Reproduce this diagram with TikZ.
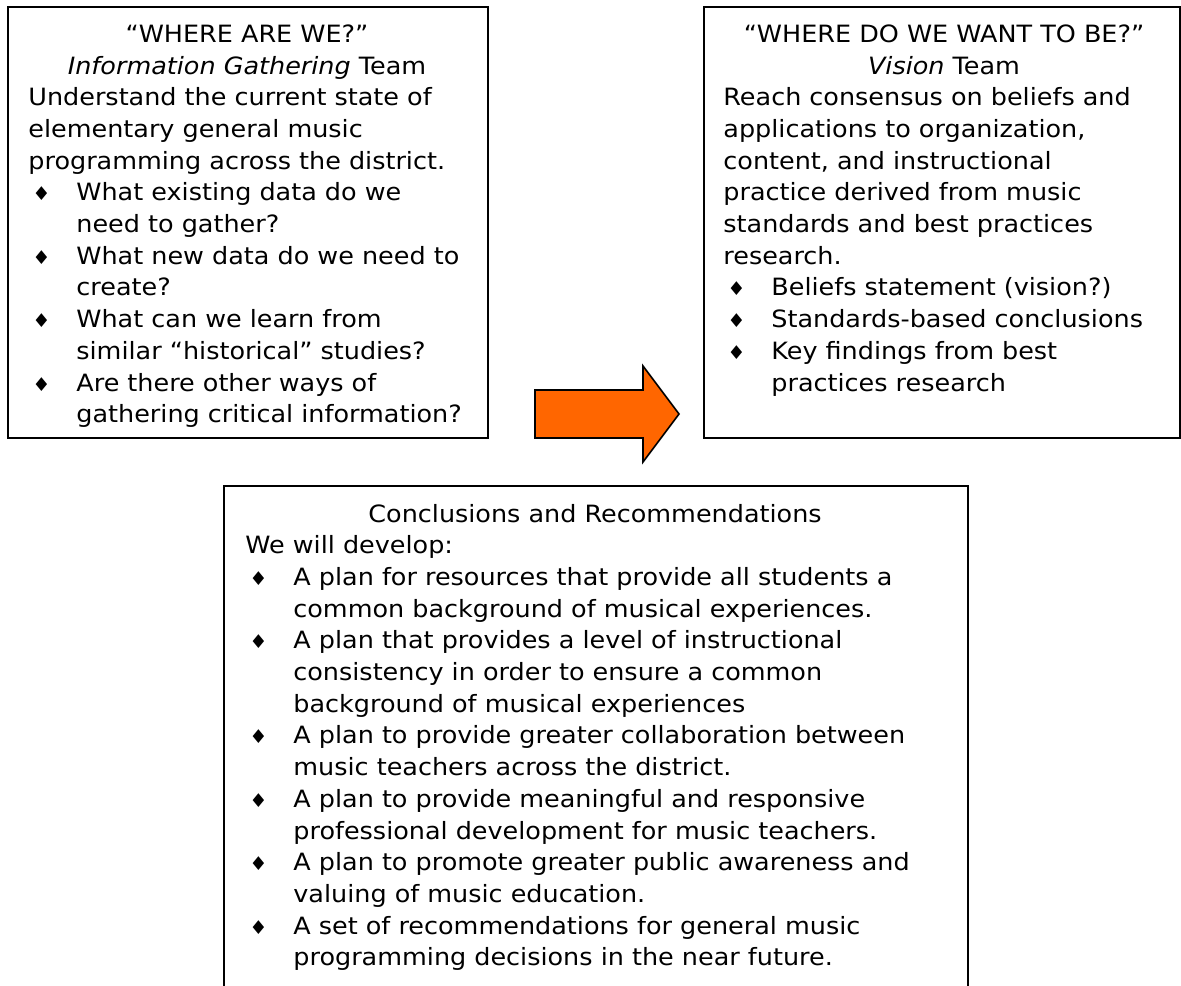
\documentclass[tikz,border=0pt]{standalone}
\usepackage{fontspec}
\setmainfont{DejaVu Sans}[FakeStretch=1.07]
\definecolor{arroworange}{HTML}{FF6600}
\newcommand\bul{\makebox[24pt][l]{\hspace{2pt}{\fontsize{9.5}{9.5}\selectfont ♦}}}
\newcommand\ind{\makebox[24pt]{}}
\tikzset{
  box/.style={draw=black, line width=1pt, anchor=north west, inner sep=0pt},
  body/.style={inner sep=0pt, font=\fontsize{11.9}{15.85}\selectfont, align=left, anchor=base west},
  ttl/.style={inner sep=0pt, font=\fontsize{11.9}{15.85}\selectfont, align=center, anchor=base},
  bigarrow/.style={fill=arroworange, draw=black, line width=0.8pt, line join=miter}
}
\begin{document}
\begin{tikzpicture}[x=0.5pt,y=-0.5pt]
\useasboundingbox (0,0) rectangle (1181,985);
\clip (0,0) rectangle (1181,985);
% boxes
\node[box, minimum width=240pt, minimum height=215.5pt] (lbox) at (7,6) {};
\node[box, minimum width=238pt, minimum height=215.5pt] (rbox) at (703,6) {};
\node[box, minimum width=372pt, minimum height=270pt] (bbox) at (223,485) {};
% arrow
\draw[bigarrow] (535,390) -- (643,390) -- (643,366) -- (679,414) -- (643,462) -- (643,438) -- (535,438) -- cycle;
% left box text (anchors at the baseline of the last line)
\begin{scope}
\clip (7,6) rectangle (487,428);
\node[ttl] (ltitle) at (247,74) {“WHERE ARE WE?”\\\textit{Information Gathering} Team};
\node[body] (ltext) at (28,422.7) {Understand the current state of\\
elementary general music\\
programming across the district.\\
\bul What existing data do we\\
\ind need to gather?\\
\bul What new data do we need to\\
\ind create?\\
\bul What can we learn from\\
\ind similar “historical” studies?\\
\bul Are there other ways of\\
\ind gathering critical information?};
\end{scope}
% right box text
\node[ttl] (rtitle) at (944,74) {“WHERE DO WE WANT TO BE?”\\\textit{Vision} Team};
\node[body] (rtext) at (723,391) {Reach consensus on beliefs and\\
applications to organization,\\
content, and instructional\\
practice derived from music\\
standards and best practices\\
research.\\
\bul Beliefs statement (vision?)\\
\bul Standards-based conclusions\\
\bul Key findings from best\\
\ind practices research};
% bottom box text
\node[ttl] (btitle) at (595,522) {Conclusions and Recommendations};
\node[body] (btext) at (245,965.8) {We will develop:\\
\bul A plan for resources that provide all students a\\
\ind common background of musical experiences.\\
\bul A plan that provides a level of instructional\\
\ind consistency in order to ensure a common\\
\ind background of musical experiences\\
\bul A plan to provide greater collaboration between\\
\ind music teachers across the district.\\
\bul A plan to provide meaningful and responsive\\
\ind professional development for music teachers.\\
\bul A plan to promote greater public awareness and\\
\ind valuing of music education.\\
\bul A set of recommendations for general music\\
\ind programming decisions in the near future.};
\end{tikzpicture}
\end{document}
